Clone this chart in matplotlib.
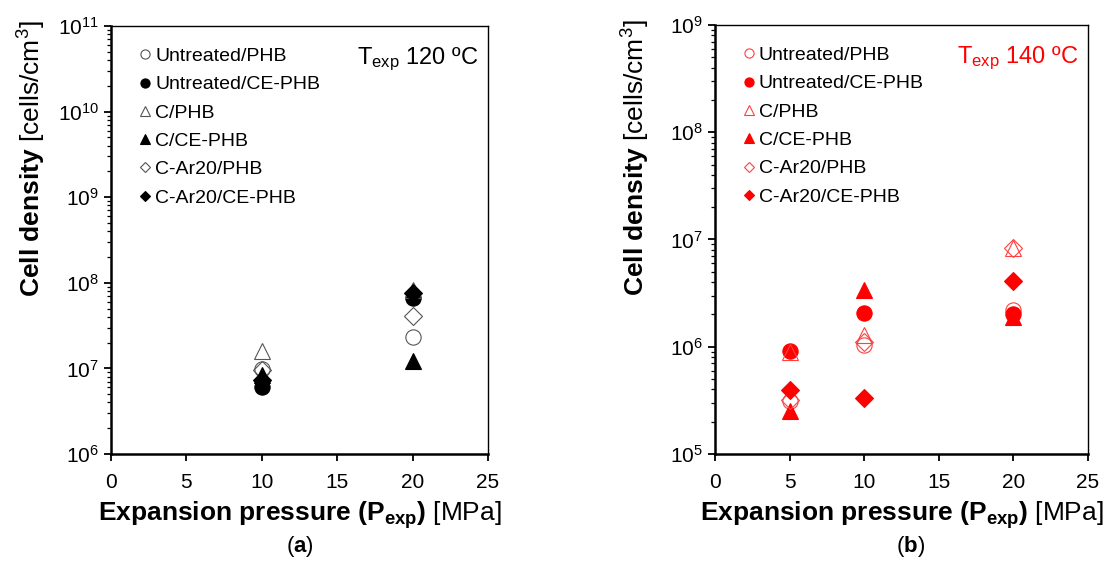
import numpy as np
import matplotlib
matplotlib.use("Agg")
import matplotlib.pyplot as plt

plt.rcParams['font.family'] = ['Liberation Sans', 'DejaVu Sans']
plt.rcParams['mathtext.fontset'] = 'custom'
plt.rcParams['mathtext.rm'] = 'Liberation Sans'
plt.rcParams['mathtext.it'] = 'Liberation Sans:italic'
plt.rcParams['mathtext.bf'] = 'Liberation Sans:bold'

series = ["Untreated/PHB", "Untreated/CE-PHB", "C/PHB", "C/CE-PHB",
          "C-Ar20/PHB", "C-Ar20/CE-PHB"]
markers = ["o", "o", "^", "^", "D", "D"]
filled = [False, True, False, True, False, True]

# (a) T_exp = 120 ºC
p_120 = [10, 20]
rho_120 = {
    "Untreated/PHB":    [9.8e6, 2.3e7],
    "Untreated/CE-PHB": [6.1e6, 6.6e7],
    "C/PHB":            [1.6e7, 8.2e7],
    "C/CE-PHB":         [8.4e6, 1.23e7],
    "C-Ar20/PHB":       [9.6e6, 4.1e7],
    "C-Ar20/CE-PHB":    [7.3e6, 7.5e7],
}

# (b) T_exp = 140 ºC
p_140 = [5, 10, 20]
rho_140 = {
    "Untreated/PHB":    [3.1e5, 1.04e6, 2.2e6],
    "Untreated/CE-PHB": [9.2e5, 2.05e6, 2.0e6],
    "C/PHB":            [9.0e5, 1.3e6, 8.3e6],
    "C/CE-PHB":         [2.5e5, 3.4e6, 1.9e6],
    "C-Ar20/PHB":       [3.2e5, 1.1e6, 8.3e6],
    "C-Ar20/CE-PHB":    [3.95e5, 3.35e5, 4.1e6],
}


def draw_panel(ax, x, data, color, open_color, ylim, temp_label):
    for name, m, f in zip(series, markers, filled):
        ms = 11 if m == "o" else (12 if m == "^" else 9)
        if f:
            ax.plot(x, data[name], linestyle="none", marker=m, ms=ms,
                    markerfacecolor=color, markeredgecolor=color, mew=0.8,
                    label=name)
        else:
            ax.plot(x, data[name], linestyle="none", marker=m, ms=ms,
                    markerfacecolor="none", markeredgecolor=open_color, mew=0.8,
                    label=name)
    ax.set_yscale("log")
    ax.set_ylim(*ylim)
    ax.set_xlim(0, 25)
    ax.set_xticks([0, 5, 10, 15, 20, 25])
    ax.tick_params(axis="both", which="major", direction="out", length=5,
                   width=1.3, labelsize=15)
    ax.tick_params(axis="y", which="minor", direction="out", length=3, width=0.9)
    ax.tick_params(axis="x", pad=9)
    ax.spines["left"].set_linewidth(1.8)
    ax.spines["bottom"].set_linewidth(1.8)
    ax.spines["top"].set_linewidth(1.0)
    ax.spines["right"].set_linewidth(1.0)
    ax.set_xlabel(r"$\mathbf{Expansion\ pressure\ (P_{exp})}$ [MPa]", fontsize=19,
                  labelpad=5)
    ax.set_ylabel(r"$\mathbf{Cell\ density}$ [cells/cm$^3$]", fontsize=19)
    ax.yaxis.set_label_coords(-0.168, 0.69)
    leg = ax.legend(loc="upper left", frameon=False, fontsize=14,
                    markerscale=0.6, handlelength=0.55, handletextpad=0.25,
                    labelspacing=0.55, borderaxespad=0.0,
                    bbox_to_anchor=(0.055, 0.968))
    for t in leg.get_texts():
        t.set_color("black")
    ax.text(0.975, 0.955, temp_label, transform=ax.transAxes, ha="right",
            va="top", fontsize=17, color=color)


fig = plt.figure(figsize=(11.04, 5.65), dpi=100)
ax1 = fig.add_axes([0.1005, 0.1965, 0.3415, 0.7575])
ax2 = fig.add_axes([0.6476, 0.1965, 0.3379, 0.7593])

draw_panel(ax1, p_120, rho_120, "black", "#555555", (1e6, 1e11),
           r"T$_{\mathrm{exp}}$ 120 ºC")
draw_panel(ax2, p_140, rho_140, "#ff0000", "#ff4040", (1e5, 1e9),
           r"T$_{\mathrm{exp}}$ 140 ºC")

fig.text(0.272, 0.032, r"($\mathbf{a}$)", ha="center", va="center", fontsize=16)
fig.text(0.825, 0.032, r"($\mathbf{b}$)", ha="center", va="center", fontsize=16)

fig.savefig("out.png", dpi=100)
